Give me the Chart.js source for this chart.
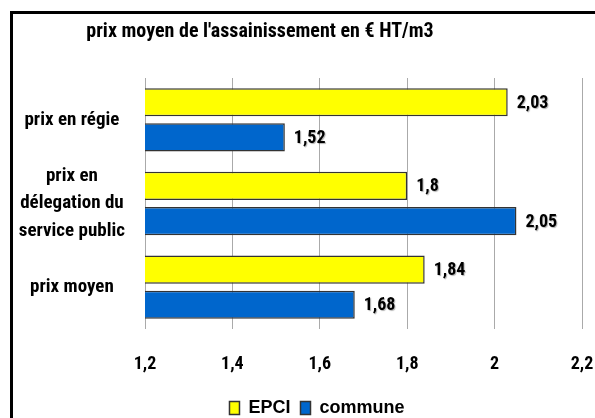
<!DOCTYPE html>
<html>
<head>
<meta charset="utf-8">
<script src="https://cdn.jsdelivr.net/npm/chart.js@4.4.1/dist/chart.umd.min.js"></script>
<style>
  html, body { margin: 0; padding: 0; background: #fff; }
  #wrap { position: relative; width: 595px; height: 418px; overflow: hidden; }
  #frame { position: absolute; left: 10px; top: 11px; width: 640px; height: 460px; border-left: 3px solid #000; border-top: 3px solid #000; pointer-events: none; }
</style>
</head>
<body>
<div id="wrap">
  <canvas id="assainissementChart" width="595" height="427"></canvas>
  <div id="frame"></div>
</div>
<script>
const categories = ['prix en régie', ['prix en', 'délegation du', 'service public'], 'prix moyen'];
const epciValues = [2.03, 1.8, 1.84];
const communeValues = [1.52, 2.05, 1.68];
const xTickValues = [1.2, 1.4, 1.6, 1.8, 2, 2.2];
const xTickLabels = ['1,2', '1,4', '1,6', '1,8', '2', '2,2'];

const fontFamily = "'Roboto Condensed', 'Liberation Sans Narrow', 'DejaVu Sans Condensed', sans-serif";
const legendFamily = "'Liberation Sans', Arial, sans-serif";
const palette = {
  epci: '#ffff00',
  commune: '#0066cc',
  edge: '#333333',
  grid: '#aaaaaa'
};

Chart.defaults.font.family = fontFamily;
Chart.defaults.color = '#000';

// title and legend are centred on the old frame, not on the canvas
const blockPlacement = {
  id: 'blockPlacement',
  afterLayout(chart) {
    if (chart.titleBlock) {
      chart.titleBlock.left = 10;
      chart.titleBlock.right = 510;
    }
    if (chart.legend) {
      chart.legend.left = 52;
    }
  }
};

const valueLabels = {
  id: 'valueLabels',
  afterDatasetsDraw(chart) {
    const { ctx } = chart;
    ctx.save();
    ctx.font = `bold 18px ${fontFamily}`;
    ctx.fillStyle = '#000';
    ctx.textAlign = 'left';
    ctx.textBaseline = 'middle';
    ctx.shadowColor = 'rgba(0, 0, 0, 0.3)';
    ctx.shadowOffsetX = 1;
    ctx.shadowOffsetY = 1;
    ctx.shadowBlur = 1;
    chart.data.datasets.forEach((ds, i) => {
      chart.getDatasetMeta(i).data.forEach((bar, j) => {
        ctx.fillText(String(ds.data[j]).replace('.', ','), bar.x + 9, bar.y + 1);
      });
    });
    ctx.restore();
  }
};

new Chart(document.getElementById('assainissementChart'), {
  type: 'bar',
  data: {
    labels: categories,
    datasets: [
      {
        label: 'EPCI',
        data: epciValues,
        backgroundColor: palette.epci,
        borderColor: palette.edge,
        borderWidth: 1.5,
        categoryPercentage: 0.84,
        barPercentage: 0.8
      },
      {
        label: 'commune',
        data: communeValues,
        backgroundColor: palette.commune,
        borderColor: palette.edge,
        borderWidth: 1.5,
        categoryPercentage: 0.84,
        barPercentage: 0.8
      }
    ]
  },
  options: {
    indexAxis: 'y',
    responsive: false,
    animation: false,
    layout: {
      padding: { left: 0, right: 13, top: 0, bottom: 0 }
    },
    scales: {
      x: {
        min: 1.2,
        max: 2.2,
        afterBuildTicks: (axis) => {
          axis.ticks = xTickValues.map((value) => ({ value }));
        },
        afterFit: (axis) => {
          axis.height = 60;
        },
        grid: {
          color: palette.grid,
          drawTicks: true,
          tickLength: 25,
          tickColor: 'rgba(0, 0, 0, 0)'
        },
        border: { display: false },
        ticks: {
          padding: 0,
          font: { size: 18, weight: 'bold' },
          callback: (value, index) => xTickLabels[index]
        }
      },
      y: {
        afterFit: (axis) => {
          axis.width = 145;
        },
        grid: { display: false, drawTicks: false },
        border: { display: false },
        ticks: {
          autoSkip: false,
          padding: 20,
          crossAlign: 'center',
          font: { size: 19, weight: 'bold', lineHeight: 1.45 }
        }
      }
    },
    plugins: {
      title: {
        display: true,
        text: "prix moyen de l'assainissement en € HT/m3",
        font: { size: 20, weight: 'bold', lineHeight: 1.2 },
        padding: { top: 20, bottom: 34 }
      },
      legend: {
        position: 'bottom',
        labels: {
          boxWidth: 10,
          boxHeight: 13,
          padding: 10,
          font: { family: legendFamily, size: 18, weight: 'bold' }
        }
      },
      tooltip: { enabled: false }
    }
  },
  plugins: [blockPlacement, valueLabels]
});
</script>
</body>
</html>
